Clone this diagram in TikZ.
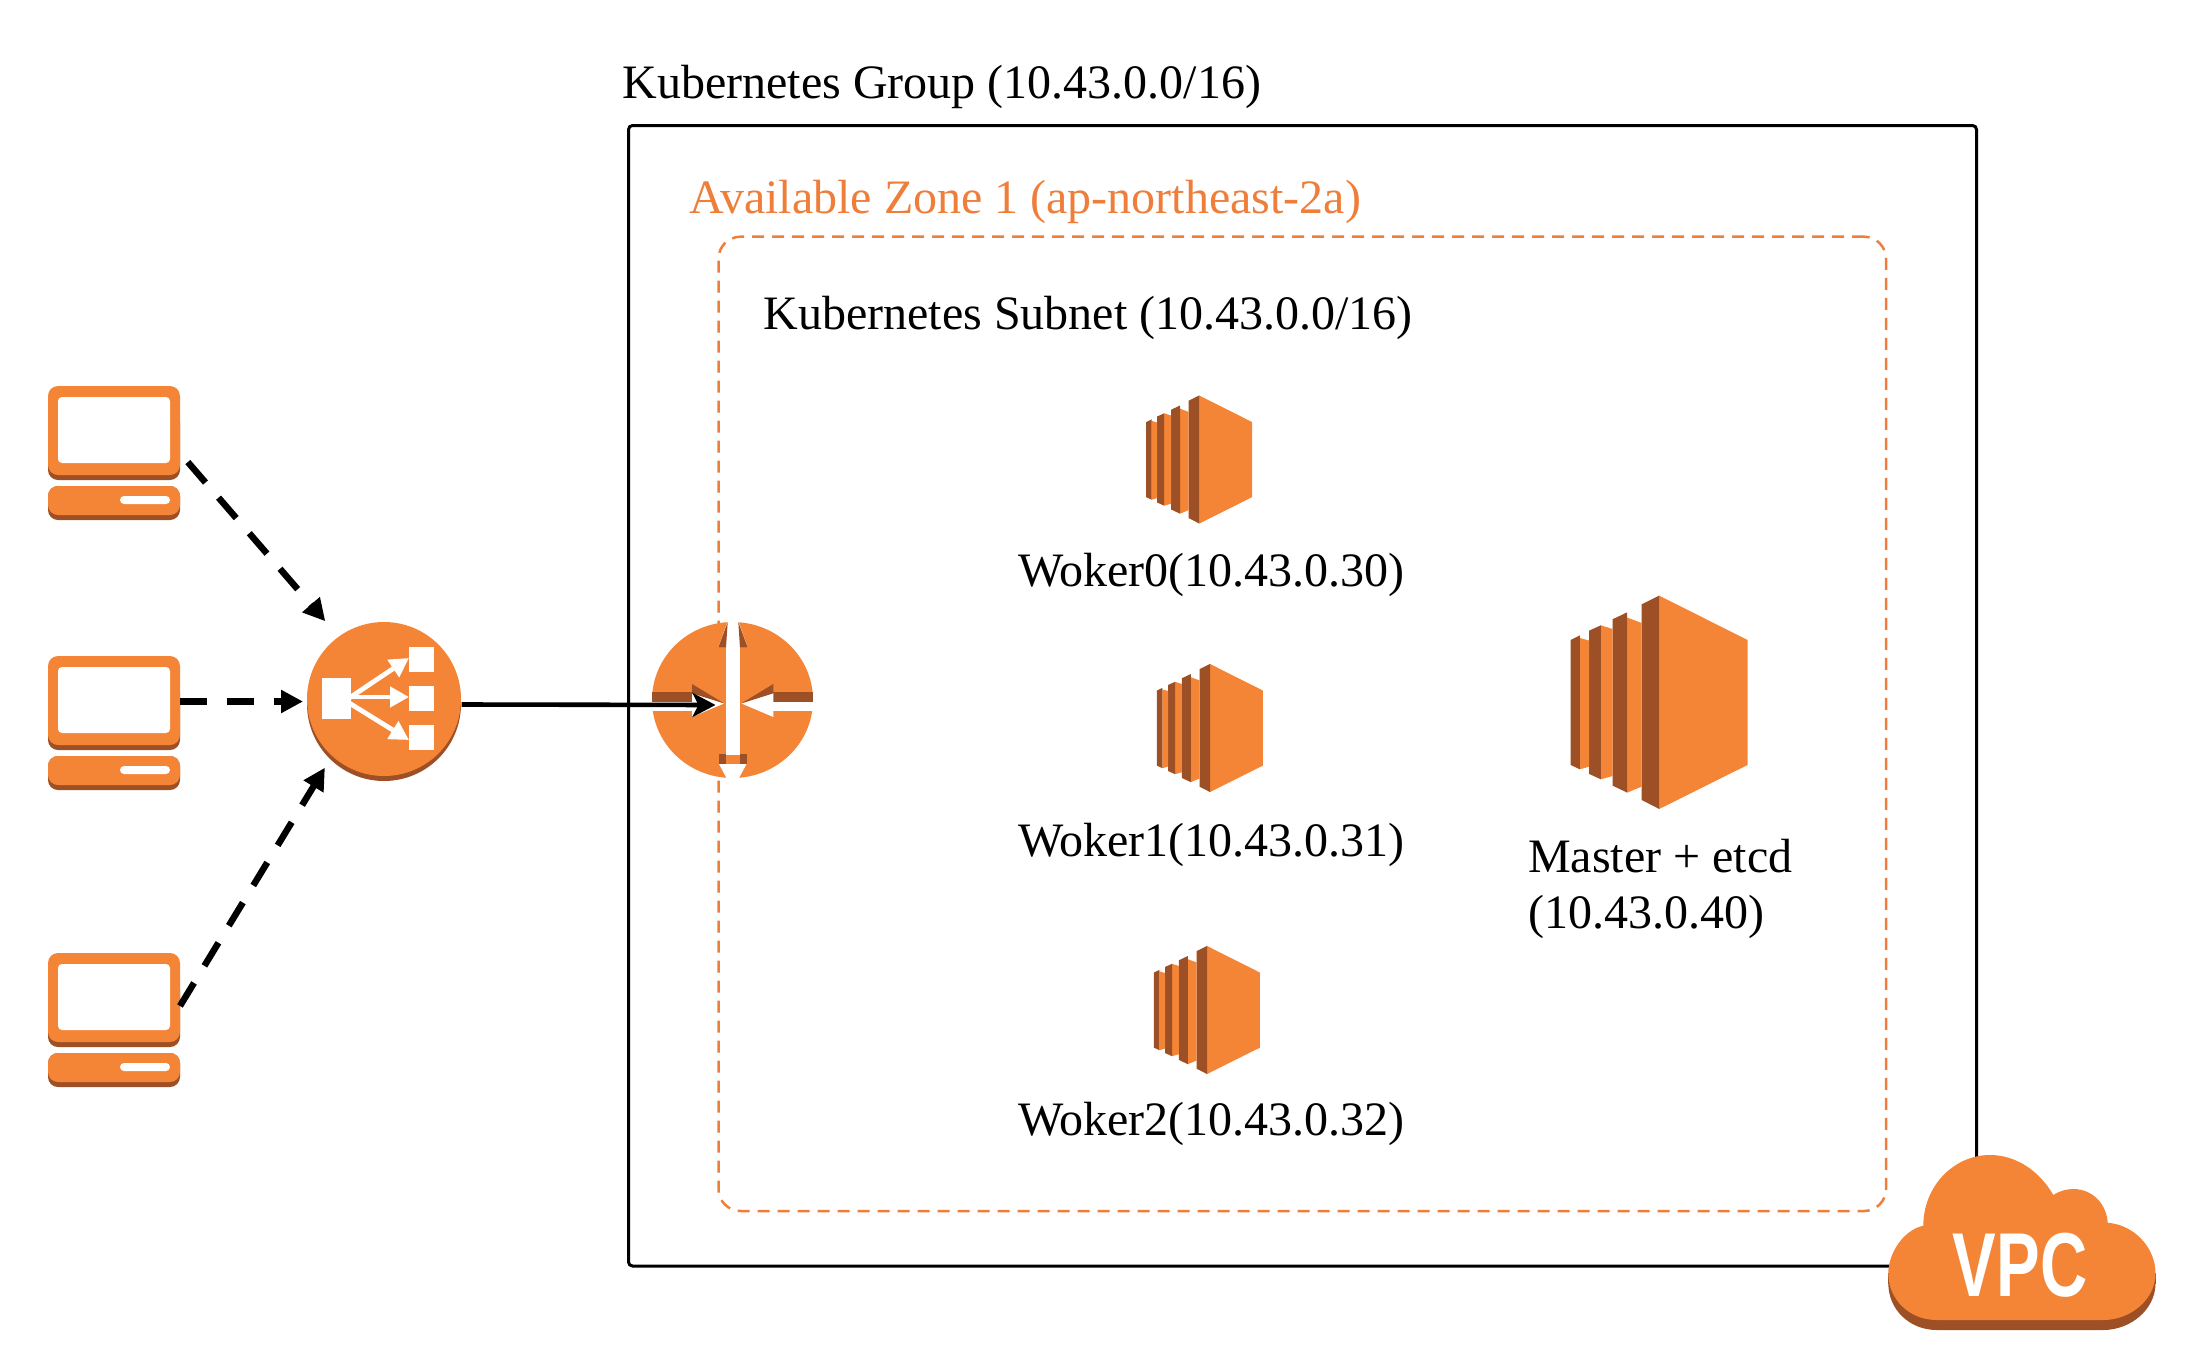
\documentclass[tikz,border=0pt]{standalone}
\usepackage{fontspec}
\setmainfont{Liberation Serif}
\newfontfamily\vpcfont{Liberation Sans}
\usetikzlibrary{arrows.meta}
\usetikzlibrary{fit}
\definecolor{awsorange}{HTML}{F58536}
\definecolor{awsdark}{HTML}{9D5025}
\definecolor{zoneorange}{HTML}{EE7E3A}
\tikzset{groupbox/.style={rectangle, rounded corners=2pt, line width=1.5pt, draw, inner sep=0pt}}
\tikzset{zonebox/.style={rectangle, rounded corners=11pt, line width=1.25pt, draw=zoneorange, dash pattern=on 6pt off 4pt, inner sep=0pt}}
\tikzset{lbl/.style={inner sep=0pt, outer sep=0pt, anchor=base west, font=\fontsize{24}{28}\selectfont}}
\tikzset{pcnode/.style={rectangle, inner sep=0pt, outer sep=0pt, minimum width=66pt, minimum height=67pt}}
\tikzset{ringnode/.style={circle, inner sep=0pt, outer sep=0pt, minimum size=79.5pt}}
\tikzset{ec2node/.style={rectangle, inner sep=0pt, outer sep=0pt, minimum width=52.5pt, minimum height=64pt}}
\tikzset{bigec2node/.style={rectangle, inner sep=0pt, outer sep=0pt, minimum width=88.5pt, minimum height=107pt}}
\tikzset{dashflow/.style={line width=3.25pt, dash pattern=on 13.5pt off 10pt, -{Triangle[length=11pt,width=11pt]}}}
\tikzset{flow/.style={line width=2.3pt, -{Stealth[length=11.5pt,width=12pt,inset=3pt]}}}
\tikzset{whitearrow/.style={white, line width=2.4pt, -{Triangle[length=9.5pt,width=10pt]}}}
\tikzset{laptop/.pic={
    \fill[awsdark, rounded corners=5pt] (-66,-40) rectangle (66,27);
    \fill[awsorange, rounded corners=5pt] (-66,-67) rectangle (66,22);
    \fill[white, rounded corners=2pt] (-56,-56) rectangle (56,10);
    \fill[awsdark, rounded corners=5pt] (-66,33) rectangle (66,67);
    \fill[awsorange, rounded corners=5pt] (-66,33) rectangle (66,62);
    \fill[white, rounded corners=2pt] (6,43) rectangle (56,51);
}}
\tikzset{elbicon/.pic={
    \fill[awsdark] (0,2.5) circle [radius=77];
    \fill[awsorange] (0,-2.5) circle [radius=77];
    \fill[white] (-61.7,-23.8) rectangle (-33.3,17.8);
    \fill[white] (25,-54.2) rectangle (50.3,-29.2);
    \fill[white] (25,-15.5) rectangle (50.3,9.5);
    \fill[white] (25,23.5) rectangle (50.3,48.5);
    \draw[whitearrow] (-34,-4) -- (25,-43.5);
    \draw[whitearrow] (-34,-4.5) -- (25,-4.5);
    \draw[whitearrow] (-34,2) -- (25,38.5);
}}
\tikzset{igwicon/.pic={
    \fill[awsorange] (0,0) ellipse [x radius=80.5, y radius=78];
    % up and down
    \fill[white] (-6.5,-53) rectangle (7.5,55);
    \fill[white] (-4.8,-79) -- (-14.2,-52.3) -- (15.2,-52.3) -- (5.8,-79) -- cycle;
    \fill[awsdark] (-4.8,-78) -- (-14.2,-52.3) -- (-6.5,-52.3) -- cycle;
    \fill[awsdark] (5.8,-78) -- (15.2,-52.3) -- (7.5,-52.3) -- cycle;
    \fill[white] (-13.5,64) -- (-5.5,79) -- (6,79) -- (14,64) -- cycle;
    \fill[awsdark] (-13.5,54.3) rectangle (-6.5,64);
    \fill[awsdark] (7.5,54.3) rectangle (14.5,64);
    % left and right
    \fill[awsdark] (-80.3,-7.7) rectangle (-40.5,1.7);
    \fill[white] (-81,1.7) rectangle (-40.5,10.7);
    \fill[white] (-40.5,-7) -- (-8.5,3.5) -- (-40.5,17) -- cycle;
    \fill[awsdark] (-40.5,-16) -- (-8.5,3.3) -- (-40.5,-6.7) -- cycle;
    \fill[awsdark] (80.3,-7.7) rectangle (40.8,1.7);
    \fill[white] (81,1.7) rectangle (40.8,10.7);
    \fill[white] (40.8,-7) -- (9,3.5) -- (40.8,17) -- cycle;
    \fill[awsdark] (40.8,-16) -- (9,3.3) -- (40.8,-6.7) -- cycle;
}}
\tikzset{ec2icon/.pic={
    \fill[awsorange] (0,-106.7) -- (88.3,-62.3) -- (88.3,62.7) -- (0,106.7) -- cycle;
    \fill[awsdark] (-17.5,-98) -- (0,-106.7) -- (0,106.7) -- (-17.5,97.7) -- cycle;
    \fill[awsorange] (-32,-84.7) -- (-17.5,-79.3) -- (-17.5,84.3) -- (-32,90.3) -- cycle;
    \fill[awsdark] (-46.7,-83) -- (-32,-90) -- (-32,90.3) -- (-46.7,83.3) -- cycle;
    \fill[awsorange] (-58.3,-77) -- (-46.7,-73.3) -- (-46.7,73.7) -- (-58.3,77) -- cycle;
    \fill[awsdark] (-70,-71.7) -- (-58.3,-77) -- (-58.3,77) -- (-70,71.7) -- cycle;
    \fill[awsorange] (-79.3,-64.3) -- (-70,-61.7) -- (-70,64.3) -- (-79.3,67) -- cycle;
    \fill[awsdark] (-88.5,-62.3) -- (-79.3,-67) -- (-79.3,67) -- (-88.5,62.7) -- cycle;
}}
\tikzset{cloudoutline/.style={insert path={
    (-133.7,30.8) .. controls (-133.7,10.8) and (-118.7,-12.5) .. (-98.7,-16.8)
    .. controls (-98.7,-55.8) and (-68.7,-87.5) .. (-32,-87.5)
    .. controls (-5.3,-87.5) and (18,-70.8) .. (31.3,-47.5)
    .. controls (38,-51.8) and (44.7,-53.5) .. (51.3,-53.5)
    .. controls (71.3,-53.5) and (84.7,-37.5) .. (85.7,-19.8)
    .. controls (113,-17.5) and (133.5,5.8) .. (133.5,30.8)
    .. controls (133.5,57.5) and (108,77.5) .. (81.3,77.5)
    -- (-85.3,77.5)
    .. controls (-112,77.5) and (-133.7,57.5) .. (-133.7,30.8) -- cycle}}}
\tikzset{vpcicon/.pic={
    \fill[awsdark, yshift=-5pt, cloudoutline];
    \fill[awsdark] (-133.7,30.8) rectangle (133.5,41);
    \fill[awsorange, cloudoutline];
}}
\begin{document}
\begin{tikzpicture}[x=0.5pt, y=-0.5pt]

    \path[use as bounding box, fill=white] (0,0) rectangle (2196,1360);

    \coordinate (groupTL) at (628.5,125.5);
    \coordinate (groupBR) at (1976.5,1266);
    \coordinate (zoneTL) at (718.5,236.7);
    \coordinate (zoneBR) at (1886,1211);

    \node[groupbox, fit=(groupTL)(groupBR)] (group) {};
    \node[zonebox, fit=(zoneTL)(zoneBR)] (zone) {};

    \node[lbl] (groupLabel) at (622.5,98) {Kubernetes Group (10.43.0.0/16)};
    \node[lbl, text=zoneorange] (zoneLabel) at (689,213.5) {Available Zone 1 (ap-northeast-2a)};
    \node[lbl] (subnetLabel) at (763.5,329.5) {Kubernetes Subnet (10.43.0.0/16)};

    \node[pcnode] (pc0) at (114,453) {};
    \node[pcnode] (pc1) at (114,723) {};
    \node[pcnode] (pc2) at (114,1020) {};
    \pic at (pc0) {laptop};
    \pic at (pc1) {laptop};
    \pic at (pc2) {laptop};

    \node[ringnode] (lb) at (384,701.5) {};
    \node[ringnode] (igw) at (732.5,700) {};
    \pic at (lb) {elbicon};
    \pic at (igw) {igwicon};

    \node[ec2node] (worker0) at (1199.2,459.5) {};
    \node[ec2node] (worker1) at (1210,728) {};
    \node[ec2node] (worker2) at (1207,1010) {};
    \node[bigec2node] (master) at (1659.2,702.3) {};
    \pic[scale=.6] at (worker0) {ec2icon};
    \pic[scale=.6] at (worker1) {ec2icon};
    \pic[scale=.6] at (worker2) {ec2icon};
    \pic at (master) {ec2icon};

    \node[lbl] (worker0Label) at (1018,586.5) {Woker0(10.43.0.30)};
    \node[lbl] (worker1Label) at (1018,856.5) {Woker1(10.43.0.31)};
    \node[lbl] (worker2Label) at (1018,1135.5) {Woker2(10.43.0.32)};
    \node[lbl] (masterLabel) at (1528,872.5) {Master + etcd};
    \node[lbl] (masterAddr) at (1528,928.5) {(10.43.0.40)};

    \draw[dashflow, shorten <=6pt, shorten >=10pt] (pc0.east) -- (lb.125);
    \draw[dashflow, shorten >=.75pt] (pc1.east |- lb.west) -- (lb.west);
    \draw[dashflow, shorten >=4.7pt] (pc2.12) -- (lb.227);
    \draw[flow] ([xshift=-1pt,yshift=-1.5pt]lb.east) -- ([xshift=31.25pt,yshift=-2.5pt]igw.west);

    \pic at (2022,1242.5) {vpcicon};
    \node[inner sep=0pt, text=white, xscale=.72, font=\vpcfont\bfseries\fontsize{45.4}{50}\selectfont] (vpc) at (2020,1265.5) {VPC};

  \end{tikzpicture}
\end{document}
